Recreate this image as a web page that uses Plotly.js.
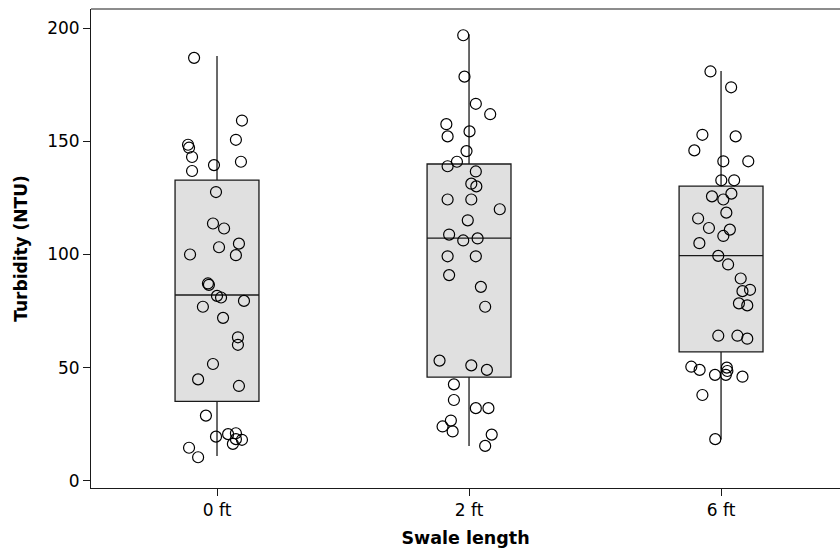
<!DOCTYPE html>
<html>
<head>
<meta charset="utf-8">
<script src="https://cdn.plot.ly/plotly-3.0.1.min.js"></script>
<style>html,body{margin:0;padding:0;background:#fff;}#chart{width:840px;height:552px;}</style>
</head>
<body>
<div id="chart"></div>
<script>
// Categories (tick labels)
const categories = ['0 ft', '2 ft', '6 ft'];

// Box statistics
const q1Vals     = [35.1, 45.8, 57.0];
const medianVals = [82.1, 107.2, 99.5];
const q3Vals     = [132.9, 140.0, 130.2];
const lowerVals  = [10.9, 15.4, 18.2];
const upperVals  = [187.7, 197.3, 181.1];

// Individual observations (turbidity, NTU)
const y0ft = [186.9,159.2,150.7,148.5,147.2,143.1,139.5,141.0,136.9,127.6,113.7,111.5,104.8,103.2,100.0,99.7,87.2,86.6,81.7,81.0,79.5,76.9,72.0,63.4,60.1,51.6,44.8,41.9,28.8,19.5,20.6,21.0,18.4,16.3,18.1,14.6,10.4];
const j0ft = [-0.091,0.099,0.075,-0.115,-0.111,-0.099,-0.012,0.095,-0.099,-0.004,-0.016,0.028,0.087,0.008,-0.107,0.075,-0.036,-0.032,0,0.016,0.107,-0.056,0.024,0.083,0.083,-0.016,-0.075,0.087,-0.044,-0.004,0.044,0.075,0.075,0.063,0.099,-0.111,-0.075];

const y2ft = [196.9,178.6,166.6,162.0,157.6,152.2,154.4,145.7,141.0,139.0,136.7,131.3,130.1,124.3,124.3,120.0,115.1,108.8,106.2,107.1,99.2,99.2,90.9,85.7,76.9,53.1,51.0,49.0,42.6,35.7,32.1,32.1,26.6,24.0,21.8,20.4,15.4];
const j2ft = [-0.023,-0.018,0.027,0.084,-0.090,-0.085,0.002,-0.010,-0.048,-0.085,0.027,0.009,0.029,-0.085,0.009,0.122,-0.005,-0.079,-0.023,0.034,-0.085,0.027,-0.079,0.047,0.064,-0.117,0.009,0.071,-0.060,-0.060,0.027,0.077,-0.072,-0.105,-0.065,0.090,0.064];

const y6ft = [180.9,173.9,152.9,152.2,146.0,141.2,141.2,132.8,132.8,126.9,125.7,124.3,118.5,115.9,111.7,111.0,108.2,105.0,99.4,95.6,89.4,83.8,84.4,78.4,77.5,64.1,64.1,62.8,50.4,49.0,46.8,50.0,48.5,46.8,46.0,37.9,18.4];
const j6ft = [-0.042,0.040,-0.074,0.058,-0.106,0.009,0.108,0.001,0.052,0.041,-0.036,0.009,0.021,-0.091,-0.048,0.035,0.009,-0.086,-0.011,0.028,0.078,0.085,0.115,0.071,0.104,-0.011,0.065,0.104,-0.118,-0.085,-0.024,0.023,0.025,0.019,0.085,-0.074,-0.023];

const groupY = [y0ft, y2ft, y6ft];
const groupJ = [j0ft, j2ft, j6ft];

const FONT = 'DejaVu Sans, sans-serif';
const idx = categories.map((c, i) => i);

const boxTrace = {
  type: 'box',
  x: idx,
  q1: q1Vals, median: medianVals, q3: q3Vals,
  lowerfence: lowerVals, upperfence: upperVals,
  width: 0.333,
  whiskerwidth: 0,
  boxpoints: false,
  fillcolor: '#e0e0e0',
  line: {color: '#1a1a1a', width: 1.3},
  hoverinfo: 'skip',
  showlegend: false
};

const pointTraces = groupY.map((ys, g) => ({
  type: 'scatter',
  mode: 'markers',
  x: ys.map((v, k) => g + groupJ[g][k]),
  y: ys,
  marker: {symbol: 'circle-open', size: 11, color: '#000000', line: {width: 1.2, color: '#000000'}},
  showlegend: false,
  hoverinfo: 'y'
}));

const layout = {
  width: 840, height: 552,
  margin: {l: 91, r: 0, t: 9, b: 64},
  paper_bgcolor: '#ffffff', plot_bgcolor: '#ffffff',
  font: {family: FONT, size: 17, color: '#000000'},
  showlegend: false,
  xaxis: {
    type: 'linear',
    range: [-0.5, 2.472],
    tickvals: idx, ticktext: categories,
    showgrid: false, zeroline: false,
    showline: true, linecolor: '#1a1a1a', linewidth: 1,
    ticks: 'outside', ticklen: 7, tickcolor: '#1a1a1a', tickwidth: 1,
    tickfont: {family: FONT, size: 17, color: '#000000'},
    title: {text: 'Swale length', font: {family: FONT, size: 17.5, color: '#000000', weight: 'bold'}, standoff: 12}
  },
  yaxis: {
    range: [-3.2, 208.5],
    tickvals: [0, 50, 100, 150, 200],
    showgrid: false, zeroline: false,
    showline: true, linecolor: '#1a1a1a', linewidth: 1,
    ticks: 'outside', ticklen: 7, tickcolor: '#1a1a1a', tickwidth: 1,
    tickfont: {family: FONT, size: 17, color: '#000000'},
    title: {text: 'Turbidity (NTU)', font: {family: FONT, size: 17, color: '#000000', weight: 'bold'}, standoff: 15}
  },
  shapes: [{type: 'line', xref: 'paper', yref: 'paper', x0: 0, x1: 1, y0: 1, y1: 1, line: {color: '#1a1a1a', width: 1}}]
};

Plotly.newPlot('chart', [boxTrace].concat(pointTraces), layout, {displayModeBar: false, staticPlot: true});
</script>
</body>
</html>
